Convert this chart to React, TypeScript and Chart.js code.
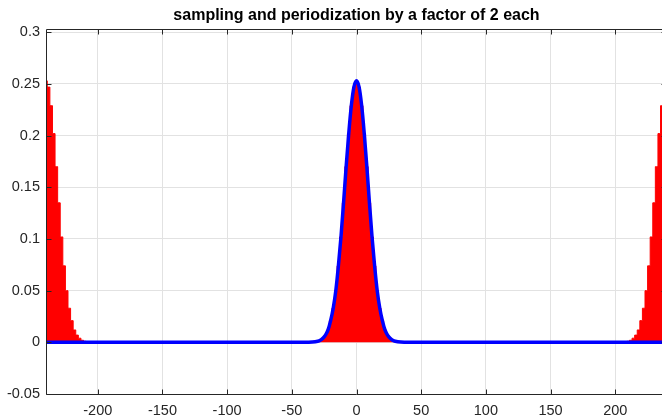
import React, { useEffect, useRef } from 'react';
import { Chart, registerables } from 'chart.js';

Chart.register(...registerables);

// ---- data ----
const TITLE = 'sampling and periodization by a factor of 2 each';
const xTicks = [-200, -150, -100, -50, 0, 50, 100, 150, 200];
const yTicks = [-0.05, 0, 0.05, 0.1, 0.15, 0.2, 0.25, 0.3];
const xMin = -240;
const xMax = 240;
const yMin = -0.05;
const yMax = 0.303;

// centres of the periodized copies of the sampled spectrum (red stems)
const copyCenters = [-240, 0, 240];
// stem offsets from a copy's centre and the stem heights
const stemOffsets = [0, 2, 4, 6, 8, 10, 12, 14, 16, 18, 20, 22, 24, 26, 28, 30];
const stemValues = [0.253, 0.247, 0.229, 0.202, 0.170, 0.135, 0.102, 0.074, 0.050, 0.033, 0.021, 0.012, 0.007, 0.004, 0.002, 0.001];
// positions between the copies where the sampled spectrum is zero
const zeroStemsX = [-208, -32, 32, 208];

// continuous (blue) curve: only the central copy, flat zero elsewhere
const curveEndsX = [-240, -40, 40, 240];

const FONT = "'Liberation Sans', Arial, Helvetica, sans-serif";
const TEXT = '#262626';
const GRID = '#e2e2e2';

function buildStems() {
  const pts: { x: number; y: number }[] = [];
  copyCenters.forEach((c) => {
    stemOffsets.forEach((o, i) => {
      const v = stemValues[i];
      const xs = o === 0 ? [c] : [c - o, c + o];
      xs.forEach((x) => {
        if (x >= xMin && x <= xMax) pts.push({ x, y: v });
      });
    });
  });
  zeroStemsX.forEach((x) => pts.push({ x, y: 0 }));
  return pts.sort((a, b) => a.x - b.x);
}

function buildCurve() {
  const pts: { x: number; y: number }[] = [];
  curveEndsX.forEach((x) => pts.push({ x, y: 0 }));
  stemOffsets.forEach((o, i) => {
    const v = stemValues[i];
    if (o === 0) pts.push({ x: 0, y: v });
    else {
      pts.push({ x: -o, y: v });
      pts.push({ x: o, y: v });
    }
  });
  return pts.sort((a, b) => a.x - b.x);
}

const framePlugin = {
  id: 'matlabFrame',
  afterDatasetsDraw(chart: any) {
    const { ctx, chartArea, scales } = chart;
    const L = Math.round(chartArea.left) + 0.5;
    const R = Math.round(chartArea.right) - 0.5;
    const T = Math.round(chartArea.top) + 0.5;
    const B = Math.round(chartArea.bottom) + 0.5;
    ctx.save();
    ctx.strokeStyle = TEXT;
    ctx.lineWidth = 1;
    ctx.beginPath();
    ctx.rect(L, T, R - L, B - T);
    ctx.stroke();
    const tl = 5;
    ctx.beginPath();
    xTicks.forEach((v) => {
      const px = Math.round(scales.x.getPixelForValue(v)) + 0.5;
      ctx.moveTo(px, B);
      ctx.lineTo(px, B - tl);
      ctx.moveTo(px, T);
      ctx.lineTo(px, T + tl);
    });
    yTicks.forEach((v) => {
      const py = Math.round(scales.y.getPixelForValue(v)) + 0.5;
      ctx.moveTo(L, py);
      ctx.lineTo(L + tl, py);
      ctx.moveTo(R, py);
      ctx.lineTo(R - tl, py);
    });
    ctx.stroke();
    ctx.restore();
  },
};

export default function App() {
  const ref = useRef<HTMLCanvasElement>(null);

  useEffect(() => {
    const canvas = ref.current;
    if (!canvas) return;
    const chart = new Chart(canvas, {
      type: 'line',
      data: {
        datasets: [
          {
            label: 'continuous',
            data: buildCurve(),
            borderColor: '#0000ff',
            borderWidth: 3.5,
            pointRadius: 0,
            cubicInterpolationMode: 'monotone',
            fill: false,
            order: 0,
            clip: 0,
          } as any,
          {
            label: 'sampled',
            data: buildStems(),
            stepped: 'middle',
            borderColor: '#ff0000',
            borderWidth: 1,
            backgroundColor: '#ff0000',
            fill: 'origin',
            pointRadius: 0,
            order: 1,
            clip: 0,
          } as any,
        ],
      },
      options: {
        animation: false,
        responsive: false,
        devicePixelRatio: 1,
        layout: { padding: { left: 0, right: 13, top: 0, bottom: 0 } },
        plugins: {
          legend: { display: false },
          tooltip: { enabled: false },
          title: {
            display: true,
            text: TITLE,
            color: '#000000',
            fullSize: false,
            font: { family: FONT, size: 16, weight: 'bold' },
            padding: { top: 6, bottom: 4 },
          },
        },
        scales: {
          x: {
            type: 'linear',
            min: xMin,
            max: xMax,
            offset: false,
            grid: { color: GRID, lineWidth: 1, drawTicks: false, offset: false },
            border: { display: false },
            ticks: {
              color: TEXT,
              font: { family: FONT, size: 14.5 },
              padding: 8,
              maxRotation: 0,
              autoSkip: false,
              callback: (v: any) => String(v),
            },
            afterBuildTicks: (s: any) => {
              s.ticks = xTicks.map((v) => ({ value: v }));
            },
            afterFit: (s: any) => {
              s.height = 24;
            },
          },
          y: {
            type: 'linear',
            min: yMin,
            max: yMax,
            grid: { color: GRID, lineWidth: 1, drawTicks: false },
            border: { display: false },
            ticks: {
              color: TEXT,
              font: { family: FONT, size: 14.5 },
              padding: 6,
              callback: (v: any) => String(parseFloat(Number(v).toFixed(2))),
            },
            afterBuildTicks: (s: any) => {
              s.ticks = yTicks.map((v) => ({ value: v }));
            },
            afterFit: (s: any) => {
              s.width = 46;
            },
          },
        },
      } as any,
      plugins: [framePlugin],
    });
    return () => chart.destroy();
  }, []);

  return (
    <div
      style={{
        position: 'fixed',
        left: 0,
        top: 0,
        width: 662,
        height: 418,
        overflow: 'hidden',
        background: '#ffffff',
      }}
    >
      <canvas ref={ref} width={680} height={418} style={{ display: 'block', width: 680, height: 418 }} />
    </div>
  );
}
